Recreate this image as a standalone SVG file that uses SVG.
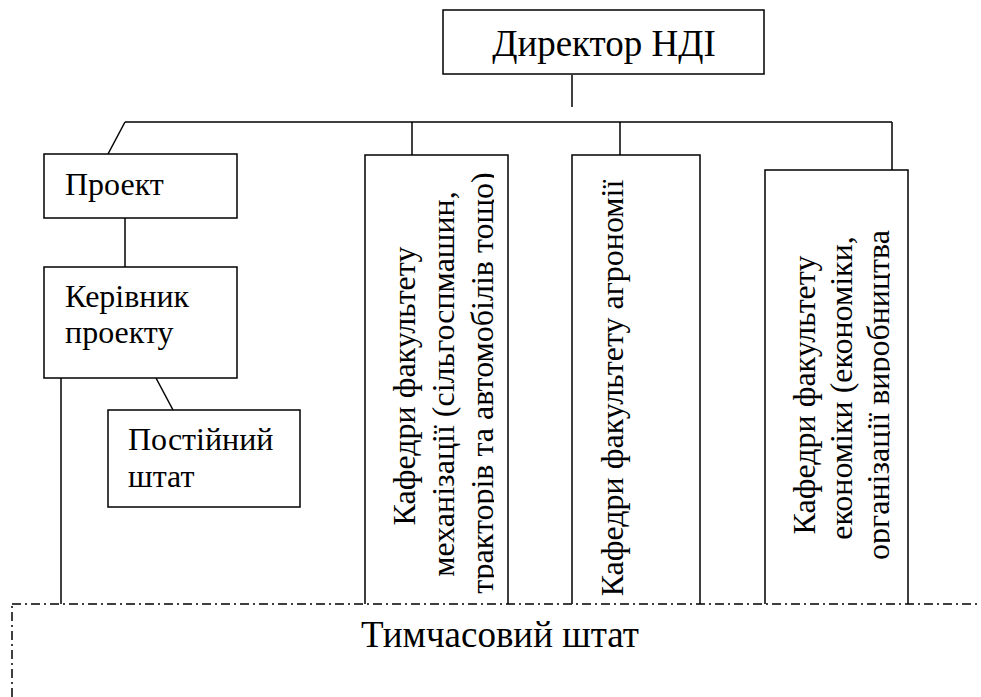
<svg xmlns="http://www.w3.org/2000/svg" width="981" height="697" viewBox="0 0 981 697" font-family="Liberation Serif, serif">
<style>
.b{fill:#fff;stroke:#000;stroke-width:1.5}
.c{fill:none;stroke:#000;stroke-width:1.5}
text{font-family:"Liberation Serif", serif;fill:#000}
.h{font-size:32px}
.v{font-size:32px}
.d{fill:#fff;stroke:#000;stroke-width:1.5;stroke-dasharray:9 4 2 4}
</style>
<defs>
<clipPath id="c1"><rect x="366" y="156" width="128" height="448"/></clipPath>
<clipPath id="c2"><rect x="573" y="156" width="126" height="448"/></clipPath>
<clipPath id="c3"><rect x="766" y="171" width="124" height="433"/></clipPath>
</defs>
<g id="connectors">
<path class="c" d="M572 75V107"/>
<path class="c" d="M125 122H892"/>
<path class="c" d="M125 122L108 154"/>
<path class="c" d="M412 122V155"/>
<path class="c" d="M620 122V155"/>
<path class="c" d="M892 122V170"/>
<path class="c" d="M125 218V267"/>
<path class="c" d="M156 378L173 410"/>
<path class="c" d="M61 378V604"/>
</g>
<g id="director">
<rect class="b" x="443" y="10" width="321" height="64"/>
<text x="604" y="56" font-size="37" text-anchor="middle">Директор НДІ</text>
</g>
<g id="project">
<rect class="b" x="44" y="154" width="193" height="64"/>
<text class="h" x="65" y="195">Проект</text>
</g>
<g id="manager">
<rect class="b" x="44" y="267" width="193" height="111"/>
<text class="h" x="65" y="307">Керівник</text>
<text class="h" x="65" y="343">проекту</text>
</g>
<g id="permanent">
<rect class="b" x="108" y="410" width="192" height="97"/>
<text class="h" x="128" y="450">Постійний</text>
<text class="h" x="128" y="487">штат</text>
</g>
<g id="mech">
<rect class="b" x="365" y="155" width="143" height="470"/>
<g clip-path="url(#c1)">
<text class="v" text-anchor="middle" transform="translate(415,386) rotate(-90)">Кафедри факультету</text>
<text class="v" text-anchor="middle" transform="translate(454,384) rotate(-90)">механізації (сільгоспмашин,</text>
<text class="v" text-anchor="middle" transform="translate(493,383) rotate(-90)">тракторів та автомобілів тощо)</text>
</g>
</g>
<g id="agro">
<rect class="b" x="572" y="155" width="128" height="470"/>
<g clip-path="url(#c2)">
<text class="v" text-anchor="middle" transform="translate(623,388) rotate(-90)">Кафедри факультету агрономії</text>
</g>
</g>
<g id="econ">
<rect class="b" x="765" y="170" width="143" height="455"/>
<g clip-path="url(#c3)">
<text class="v" text-anchor="middle" transform="translate(815,395) rotate(-90)">Кафедри факультету</text>
<text class="v" text-anchor="middle" transform="translate(852,388) rotate(-90)">економіки (економіки,</text>
<text class="v" text-anchor="middle" transform="translate(889,395) rotate(-90)">організації виробництва</text>
</g>
</g>
<g id="temporary">
<rect class="d" x="12" y="604" width="1000" height="120"/>
<text x="500" y="647" font-size="37" text-anchor="middle">Тимчасовий штат</text>
</g>
</svg>
